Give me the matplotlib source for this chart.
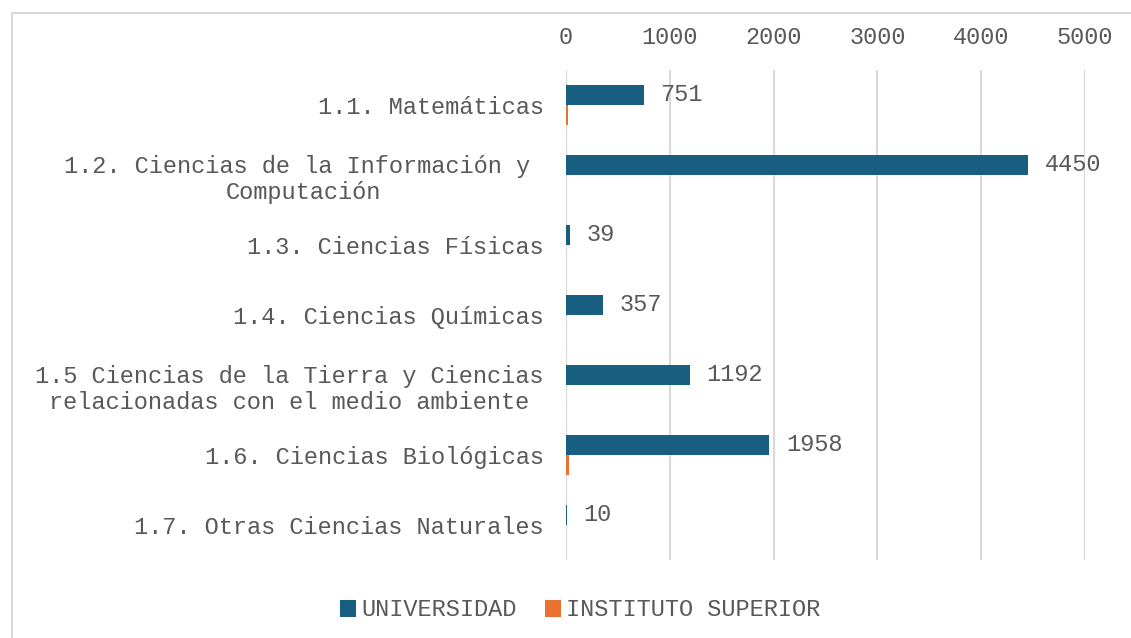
import matplotlib.pyplot as plt
import matplotlib.patches as mpatches
import numpy as np

categories = [
    "1.1. Matemáticas",
    "1.2. Ciencias de la Información y \nComputación",
    "1.3. Ciencias Físicas",
    "1.4. Ciencias Químicas",
    "1.5 Ciencias de la Tierra y Ciencias\nrelacionadas con el medio ambiente",
    "1.6. Ciencias Biológicas",
    "1.7. Otras Ciencias Naturales",
]
universidad = [751, 4450, 39, 357, 1192, 1958, 10]
instituto = [18, 0, 0, 0, 0, 30, 0]
xticks = [0, 1000, 2000, 3000, 4000, 5000]

BLUE = "#175E80"
ORANGE = "#E97132"
GREY = "#595959"
GRID = "#D9D9D9"
FONT = "Liberation Mono"
FS = 17

plt.rcParams['font.family'] = [FONT, 'DejaVu Sans']

fig = plt.figure(figsize=(11.31, 6.38), dpi=100)
ax = fig.add_axes([566 / 1131, 1 - 560 / 638, (1085 - 566) / 1131, 490 / 638])

# outer frame like the original chart area
fig.patches.append(mpatches.Rectangle((12 / 1131, -0.05), 1.2, 1 - 13 / 638 + 0.05,
                                      transform=fig.transFigure, fill=False,
                                      edgecolor=GRID, linewidth=1.5))

y = np.arange(len(categories))
h = 0.286
b1 = ax.barh(y - h / 2, universidad, height=h, color=BLUE, label="UNIVERSIDAD")
ax.barh(y + h / 2, instituto, height=h, color=ORANGE, label="INSTITUTO SUPERIOR")
ax.bar_label(b1, labels=[str(v) for v in universidad], padding=12,
             fontsize=FS, color=GREY, family=FONT)

ax.set_ylim(len(categories) - 0.5, -0.5)
ax.set_xlim(0, 5000)
ax.set_xticks(xticks)
ax.xaxis.tick_top()
ax.tick_params(axis='x', length=0, pad=15, labelsize=FS, labelcolor=GREY)
ax.set_yticks(y)
ax.set_yticklabels(categories, multialignment='center')
ax.tick_params(axis='y', length=0, pad=16, labelsize=FS, labelcolor=GREY)

ax.grid(axis='x', color=GRID, linewidth=1.5)
ax.set_axisbelow(True)
for s in ax.spines.values():
    s.set_visible(False)

fig.legend(loc='center', bbox_to_anchor=(580 / 1131, 1 - 610 / 638), ncol=2,
           frameon=False, fontsize=FS, labelcolor=GREY, handlelength=0.7,
           handleheight=0.7, handletextpad=0.2, columnspacing=1.2)

fig.savefig("out.png", dpi=100)
